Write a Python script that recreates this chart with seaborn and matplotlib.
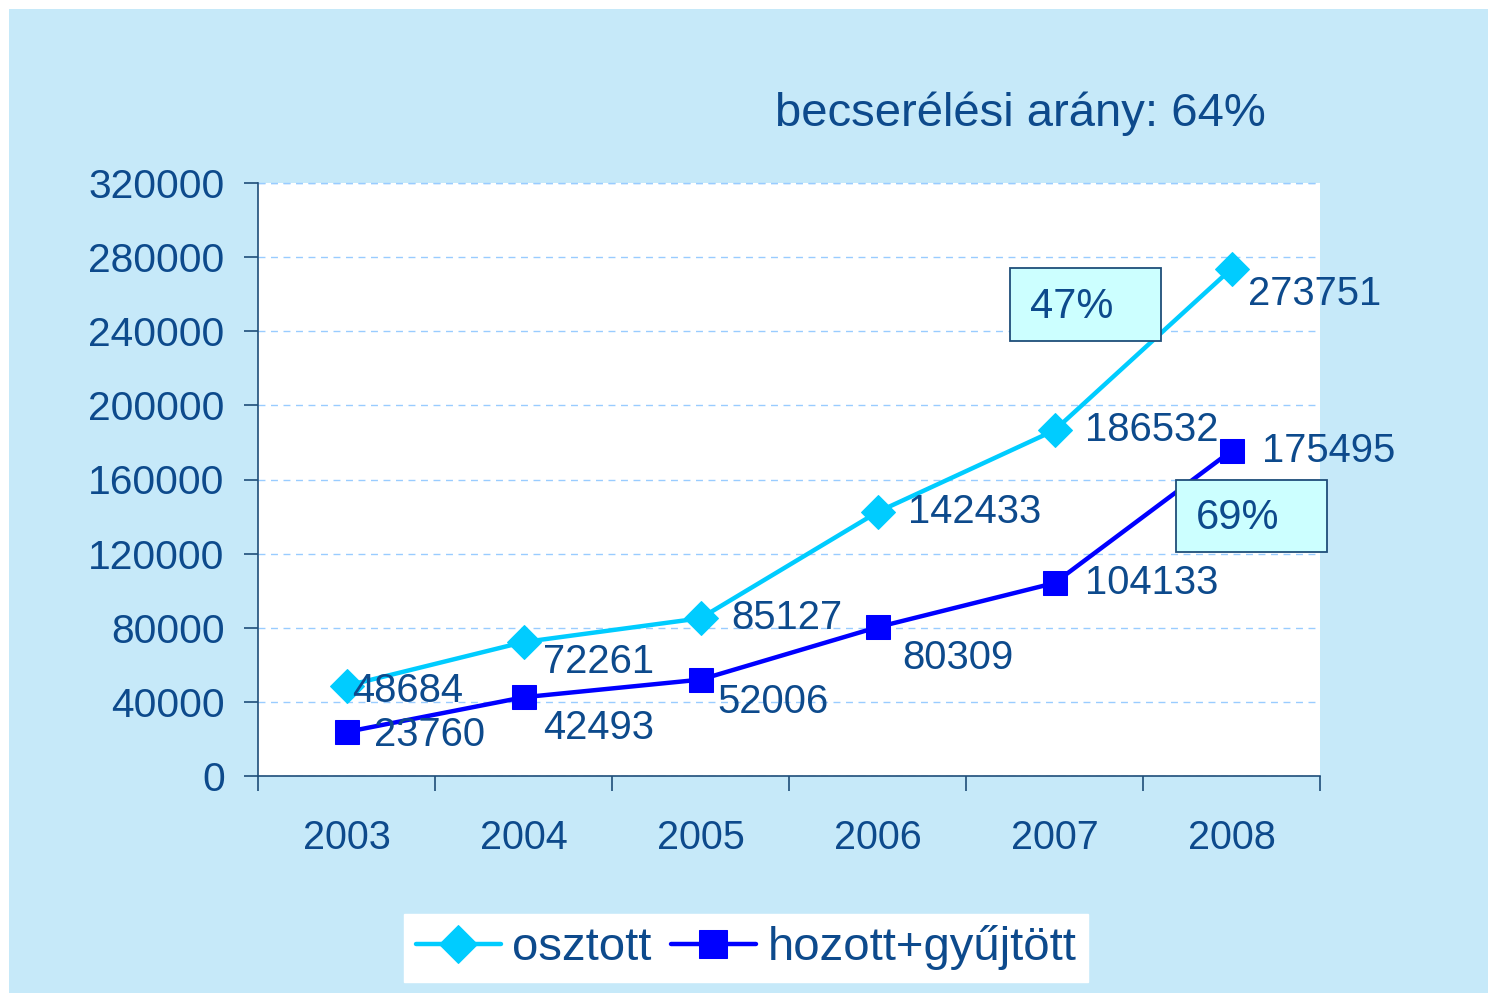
import pandas as pd
import matplotlib
matplotlib.use("Agg")
import matplotlib.pyplot as plt
import matplotlib.patches as mpatches
import seaborn as sns

# data
years = ["2003", "2004", "2005", "2006", "2007", "2008"]
osztott = [48684, 72261, 85127, 142433, 186532, 273751]
hozott = [23760, 42493, 52006, 80309, 104133, 175495]
series_names = ["osztott", "hozott+gyűjtött"]
title_text = "becserélési arány: 64%"
box_texts = ["47%", "69%"]

# label offsets (points) for the data labels
off_oszt = [(4, -4), (14, -14), (22, 0), (22, 0), (22, 0), (12, -18)]
off_hoz = [(20, -2), (14, -22), (12, -16), (18, -22), (22, 0), (22, 0)]

sns.set_style("white")
plt.rcParams['font.family'] = ['Liberation Sans', 'DejaVu Sans']

TXT = '#0D4A8C'
AXC = '#1F4E79'
CYAN = '#00CCFF'
BLUE = '#0000FF'

fig = plt.figure(figsize=(14.88, 9.93), dpi=100)
fig.patch.set_facecolor('white')
W, H = 1488, 993
# light blue panel, leaving a thin white strip on top and left
fig.patches.append(mpatches.Rectangle((9 / W, 0), 1, 1 - 9 / H, transform=fig.transFigure,
                                      facecolor='#C6E9F9', edgecolor='none', zorder=-10))

ax = fig.add_axes([258 / W, 1 - 776 / H, (1320 - 258) / W, (776 - 183) / H])
ax.set_facecolor('white')

df = pd.DataFrame({"pos": range(len(years)), "osztott": osztott, "hozott": hozott})

sns.lineplot(data=df, x="pos", y="osztott", ax=ax, color=CYAN, lw=3.2, marker='D',
             markersize=17, markeredgecolor=CYAN, zorder=5, label=series_names[0])
sns.lineplot(data=df, x="pos", y="hozott", ax=ax, color=BLUE, lw=3.2, marker='s',
             markersize=17, markeredgecolor=BLUE, zorder=5, label=series_names[1])

ax.set_xlim(-0.5, len(years) - 0.5)
ax.set_ylim(0, 320000)
ax.set_yticks(range(0, 320001, 40000))
ax.set_yticklabels([str(v) for v in range(0, 320001, 40000)])
ax.set_xticks(range(len(years)))
ax.set_xticklabels(years)
ax.set_xticks([i - 0.5 for i in range(len(years) + 1)], minor=True)
ax.tick_params(axis='x', which='major', bottom=False, length=0, pad=31, labelsize=28.5,
               labelcolor=TXT)
ax.tick_params(axis='x', which='minor', bottom=True, length=11, width=1.2, color=AXC,
               direction='out')
ax.tick_params(axis='y', which='major', left=True, length=10, width=1.2, color=AXC,
               direction='out', pad=14, labelsize=29.3, labelcolor=TXT)
ax.set_xlabel("")
ax.set_ylabel("")

for s in ['top', 'right']:
    ax.spines[s].set_visible(False)
for s in ['left', 'bottom']:
    ax.spines[s].set_color(AXC)
    ax.spines[s].set_linewidth(1.2)

ax.yaxis.grid(True, linestyle=(0, (5, 4)), color='#99CCFF', lw=1)
ax.set_axisbelow(True)
ax.axhline(320000, linestyle=(0, (5, 4)), color='#99CCFF', lw=1, clip_on=False)

for i, v in enumerate(osztott):
    ax.annotate(str(v), (i, v), xytext=off_oszt[i], textcoords='offset points',
                ha='left', va='center', fontsize=28.8, color=TXT, zorder=6)
for i, v in enumerate(hozott):
    ax.annotate(str(v), (i, v), xytext=off_hoz[i], textcoords='offset points',
                ha='left', va='center', fontsize=28.8, color=TXT, zorder=6)

# title
fig.text(1020 / W, 1 - 114 / H, title_text, ha='center', va='center', fontsize=34, color=TXT)

# percentage boxes
for (x0, y0, x1, y1), t in zip([(1010, 268, 1161, 341), (1176, 480, 1327, 552)], box_texts):
    fig.patches.append(mpatches.Rectangle((x0 / W, 1 - y1 / H), (x1 - x0) / W, (y1 - y0) / H,
                                          transform=fig.transFigure, facecolor='#CCFFFF',
                                          edgecolor=AXC, lw=1.3, zorder=8))
    fig.text((x0 + 20) / W, 1 - ((y0 + y1) / 2 + 2) / H, t, ha='left', va='center',
             fontsize=30, color=TXT, zorder=9)

# legend
leg = ax.legend(loc='center', bbox_to_anchor=(746 / W, 1 - 948 / H), bbox_transform=fig.transFigure,
                ncol=2, frameon=True, fancybox=False, framealpha=1, fontsize=34,
                handlelength=1.8, columnspacing=0.4, handletextpad=0.25, borderpad=0.25,
                borderaxespad=0, markerscale=1.15)
leg.get_frame().set_facecolor('white')
leg.get_frame().set_edgecolor('white')
for t in leg.get_texts():
    t.set_color(TXT)

fig.savefig("out.png", dpi=100)
